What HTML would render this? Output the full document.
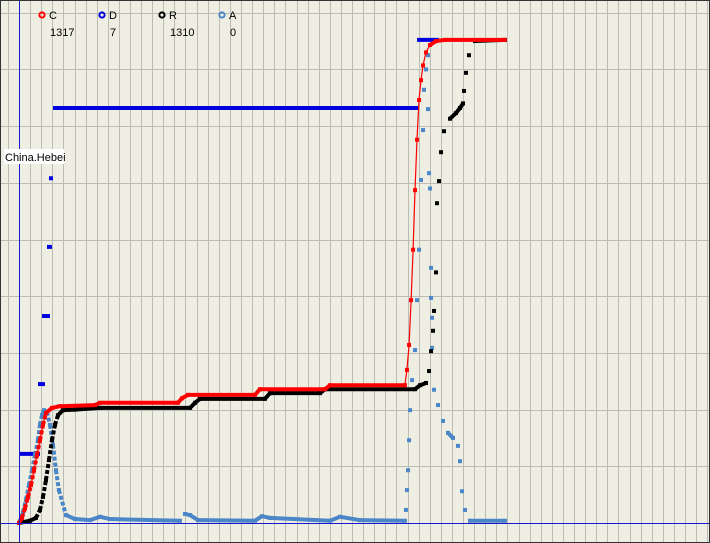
<!DOCTYPE html>
<html><head><meta charset="utf-8"><style>
html,body{margin:0;padding:0;background:#efeee2;overflow:hidden;width:710px;height:543px;}
svg{display:block;font-family:"Liberation Sans",sans-serif;}
</style></head><body>
<svg id="chart" width="710" height="543" viewBox="0 0 710 543" xmlns="http://www.w3.org/2000/svg">
<rect x="0" y="0" width="710" height="543" fill="#efeee2"/>
<g id="grid"></g>
<g id="series"></g>
<line x1="19.5" y1="0" x2="19.5" y2="543" stroke="#1818d0" stroke-width="1"/>
<line x1="0" y1="523.5" x2="710" y2="523.5" stroke="#1818d0" stroke-width="1"/>
<g font-size="11" fill="#000">
 <g><circle cx="42" cy="15" r="2.6" fill="none" stroke="#ff0000" stroke-width="2"/><text x="49" y="19">C</text><text x="50" y="36">1317</text></g>
 <g><circle cx="102" cy="15" r="2.6" fill="none" stroke="#0000e0" stroke-width="2"/><text x="109" y="19">D</text><text x="110" y="36">7</text></g>
 <g><circle cx="162" cy="15" r="2.6" fill="none" stroke="#000" stroke-width="2"/><text x="169" y="19">R</text><text x="170" y="36">1310</text></g>
 <g><circle cx="222" cy="15" r="2.6" fill="none" stroke="#4a86c8" stroke-width="2"/><text x="229" y="19">A</text><text x="230" y="36">0</text></g>
</g>
<g><rect x="4" y="149" width="60" height="15" fill="#fff"/><text x="5" y="161" font-size="11" fill="#000">China.Hebei</text></g>
<rect x="0.5" y="0.5" width="709" height="542" fill="none" stroke="#333" stroke-width="1"/>
</svg>
<script>
// data in grid units: x = days (grid columns), y = grid rows
const cX = [0,0.27,0.54,0.81,1.08,1.35,1.62,1.89,2.16,2.43,2.97,3.69,6.85,7.3,14.32,14.68,15.23,21.26,21.71,27.57,28.02,34.77,34.95,35.14,35.32,35.5,35.68,35.86,36.04,36.22,36.4,36.67,37.03,37.57,38.38,43.78];
const cY = [0,0.09,0.26,0.46,0.67,0.93,1.2,1.46,1.73,1.94,2.03,2.06,2.08,2.12,2.12,2.2,2.26,2.26,2.36,2.36,2.43,2.43,2.7,3.14,3.93,4.82,5.87,6.76,7.46,7.81,8.07,8.3,8.43,8.5,8.52,8.52];
const rX = [0,0.99,1.53,1.89,2.16,2.43,2.7,2.97,3.24,3.51,3.96,5.05,7.3,15.41,15.86,16.31,22.16,22.61,27.12,27.57,35.68,36.13,36.67,36.94,37.12,37.3,37.39,37.57,37.66,37.84,38.02,38.29,38.83,39.37,39.73,40.0,40.09,40.27,40.54,41.08,43.78];
const rY = [0,0.04,0.09,0.23,0.46,0.76,1.11,1.46,1.73,1.9,1.99,2.0,2.03,2.03,2.12,2.19,2.19,2.29,2.29,2.36,2.36,2.43,2.47,2.68,3.03,3.39,3.74,4.42,5.64,6.03,6.54,6.91,7.13,7.23,7.32,7.4,7.62,7.94,8.25,8.5,8.52];
const aX = [0,0.36,0.63,0.9,1.17,1.44,1.71,1.89,2.07,2.25,2.52,2.79,3.06,3.33,3.6,4.23,5.05,6.4,7.3,8.2,14.5,14.95,15.41,16.13,21.26,21.89,22.61,28.02,28.92,30.72,34.77,34.86,34.95,35.05,35.14,35.23,35.41,35.68,35.86,36.04,36.22,36.4,36.49,36.67,36.85];
const aY = [0,0.19,0.41,0.67,0.93,1.2,1.46,1.73,1.9,1.99,1.96,1.73,1.38,0.93,0.58,0.14,0.07,0.05,0.11,0.07,0.04,0.16,0.14,0.05,0.04,0.12,0.09,0.04,0.11,0.05,0.04,0.23,0.58,0.93,1.46,1.99,2.52,3.05,3.93,4.82,6.05,6.93,7.64,8.0,8.25];
const a2X = [36.85,36.94,37.03,37.12,37.12,37.21,37.21,37.39,37.75,38.2,38.65,39.1,39.55,39.73,39.91,40.18,40.63,43.78];
const a2Y = [7.3,6.17,5.9,4.5,3.97,3.62,3.09,2.35,2.08,1.8,1.59,1.5,1.36,1.09,0.56,0.23,0.04,0.04];
const dStart = [0,1.71,2.07,2.52,2.7,3.06,35.86];
const dEnd = [1.89,2.34,2.79,2.97,3.06,35.95,37.84];
const dVal = [1.22,2.45,3.65,4.87,6.08,7.32,8.52];

const X0=19, XU=11.1, Y0=523, YU=56.7;
const sx = v => X0 + v*XU;
const sy = v => Y0 - v*YU;
const NS="http://www.w3.org/2000/svg";
const grid=document.getElementById('grid'), ser=document.getElementById('series');
function mk(tag, attrs, parent){const e=document.createElementNS(NS,tag);for(const k in attrs)e.setAttribute(k,attrs[k]);parent.appendChild(e);return e;}
for(let x=X0-11.1; x<710; x+=XU){
  const l=mk('line',{x1:Math.round(x)+0.5,y1:0,x2:Math.round(x)+0.5,y2:543,stroke:'#bdbcb4','stroke-width':1},grid);
  
  
}
for(let k=-1;k<10;k++){
  const y=Y0-k*YU;
  const l=mk('line',{x1:0,y1:Math.round(y)+0.5,x2:710,y2:Math.round(y)+0.5,stroke:'#bdbcb4','stroke-width':1},grid);
  
  
}
for(let i=0;i<dVal.length;i++){
  const l=mk('line',{x1:sx(dStart[i]),y1:sy(dVal[i]),x2:sx(dEnd[i]),y2:sy(dVal[i]),stroke:'#0000e0','stroke-width':4},ser);
  
  
}
function series(xs,ys,color,name,thinLine){
  if(thinLine){
    const pts=xs.map((v,i)=>sx(v).toFixed(1)+','+sy(ys[i]).toFixed(1)).join(' ');
    const p=mk('polyline',{points:pts,fill:'none',stroke:color,'stroke-width':1.2},ser);
    
    
  }
  for(let i=1;i<xs.length;i++){
    const x1=sx(xs[i-1]),y1=sy(ys[i-1]),x2=sx(xs[i]),y2=sy(ys[i]);
    const dy=Math.abs(y2-y1), dx=Math.abs(x2-x1);
    const len=Math.hypot(dx,dy);
    if(dy<6){
      const s=mk('line',{x1:x1,y1:y1,x2:x2,y2:y2,stroke:color,'stroke-width':4},ser);
      
      
    } else if(len<32 && x1<120){
      const s=mk('line',{x1:x1,y1:y1,x2:x2,y2:y2,stroke:color,'stroke-width':4,'stroke-dasharray':'4 2'},ser);
      
      
    }
  }
  xs.forEach((v,i)=>{
    const r=mk('rect',{x:sx(v)-2,y:sy(ys[i])-2,width:4,height:4,fill:color},ser);
    
    
  });
}
series(aX,aY,'#4a86c8','series-a',false);
series(a2X,a2Y,'#4a86c8','series-a-tail',false);
series(rX,rY,'#000000','series-r',false);
series(cX,cY,'#ff0000','series-c',true);
</script>
</body></html>
